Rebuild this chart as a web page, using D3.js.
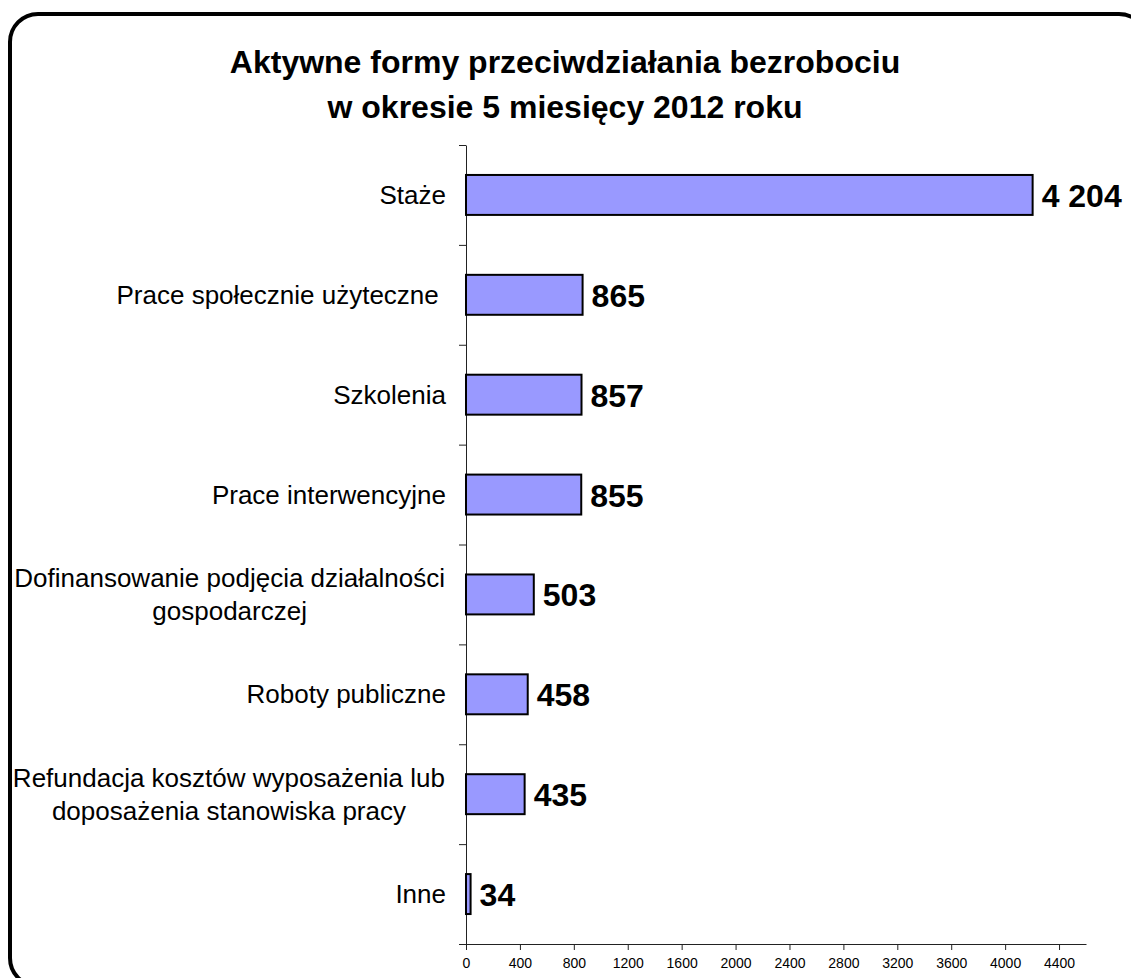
<!DOCTYPE html>
<html>
<head>
<meta charset="utf-8">
<script src="https://cdn.jsdelivr.net/npm/d3@7"></script>
<style>
  body { margin: 0; background: #fff; }
  svg text { font-family: "Liberation Sans", Arial, sans-serif; }
</style>
</head>
<body>
<div id="chart"></div>
<script>
let width = 1131,
    height = 978;

// data
let categories = [
  "Staże",
  "Prace społecznie użyteczne ",
  "Szkolenia",
  "Prace interwencyjne",
  "Dofinansowanie podjęcia działalności\ngospodarczej",
  "Roboty publiczne",
  "Refundacja kosztów wyposażenia lub\ndoposażenia stanowiska pracy",
  "Inne"
];
let values = [4204, 865, 857, 855, 503, 458, 435, 34];
let valueLabels = ["4 204", "865", "857", "855", "503", "458", "435", "34"];
let xTicks = [0, 400, 800, 1200, 1600, 2000, 2400, 2800, 3200, 3600, 4000, 4400];
let titleLines = ["Aktywne formy przeciwdziałania bezrobociu", "w okresie 5 miesięcy 2012 roku"];

let data = categories.map((c, i) => ({ cat: c, value: values[i], label: valueLabels[i] }));

let svg = d3.select("#chart").append("svg")
    .attr("width", width)
    .attr("height", height);

// rounded frame (runs off the right / bottom edge like in the source)
svg.append("rect")
  .attr("x", 10).attr("y", 14)
  .attr("width", 1137).attr("height", 972)
  .attr("rx", 28).attr("ry", 28)
  .attr("fill", "#fff")
  .attr("stroke", "#000")
  .attr("stroke-width", 4);

svg.append("text")
  .attr("x", 565)
  .attr("text-anchor", "middle")
  .style("font-size", "32px")
  .style("font-weight", "bold")
  .selectAll("tspan")
  .data(titleLines)
  .enter().append("tspan")
  .attr("x", 565)
  .attr("y", (d, i) => 73 + i * 45)
  .text(d => d);

let x = d3.scaleLinear()
    .domain([0, 4600])
    .range([466, 1086]);

let y = d3.scaleBand()
    .domain(categories)
    .range([145, 944])
    .paddingInner(0.6)
    .paddingOuter(0.3);

// band boundaries for the category axis ticks
let yEdges = d3.scaleLinear()
    .domain([0, categories.length])
    .range([145, 944]);

svg.append("g")
  .attr("transform", "translate(466,0)")
  .call(d3.axisLeft(yEdges).ticks(categories.length).tickFormat("").tickSize(7).tickSizeOuter(0))
  .call(g => g.selectAll("line, path").attr("stroke", "#222"));

svg.append("g")
  .attr("transform", "translate(0,944)")
  .call(d3.axisBottom(x).tickValues(xTicks).tickFormat(d3.format("d")).tickSize(6).tickSizeOuter(0))
  .call(g => g.selectAll("line, path").attr("stroke", "#222"))
  .call(g => g.selectAll("text")
    .attr("dy", "1.1em")
    .style("font-size", "14px")
    .style("font-family", "'Liberation Sans', Arial, sans-serif")
    .attr("fill", "#000"));

svg.selectAll("rect.bar")
  .data(data)
  .enter()
  .append("rect")
  .attr("class", "bar")
  .attr("x", x(0))
  .attr("y", d => y(d.cat))
  .attr("width", d => x(d.value) - x(0))
  .attr("height", y.bandwidth())
  .attr("fill", "#9999FF")
  .attr("stroke", "#000")
  .attr("stroke-width", 2);

svg.selectAll("text.val")
  .data(data)
  .enter()
  .append("text")
  .attr("class", "val")
  .attr("x", d => x(d.value) + 9)
  .attr("y", d => y(d.cat) + y.bandwidth() / 2 + 12)
  .style("font-size", "32px")
  .style("font-weight", "bold")
  .text(d => d.label);

// category labels, multi-line ones centred as a block
let lineH = 33;
svg.selectAll("text.cat")
  .data(data)
  .enter()
  .append("text")
  .attr("class", "cat")
  .style("font-size", "26px")
  .style("white-space", "pre")
  .attr("xml:space", "preserve")
  .each(function(d) {
    let lines = d.cat.split("\n");
    let cy = y(d.cat) + y.bandwidth() / 2;
    let t = d3.select(this);
    lines.forEach((l, i) => {
      t.append("tspan")
        .attr("y", cy + 9 + (i - (lines.length - 1) / 2) * lineH)
        .text(l);
    });
    let widest = d3.max(t.selectAll("tspan").nodes(), n => n.getComputedTextLength());
    if (lines.length > 1) {
      t.attr("text-anchor", "middle");
      t.selectAll("tspan").attr("x", 445 - widest / 2);
    } else {
      t.attr("text-anchor", "end");
      t.selectAll("tspan").attr("x", 446);
    }
  });
</script>
</body>
</html>
